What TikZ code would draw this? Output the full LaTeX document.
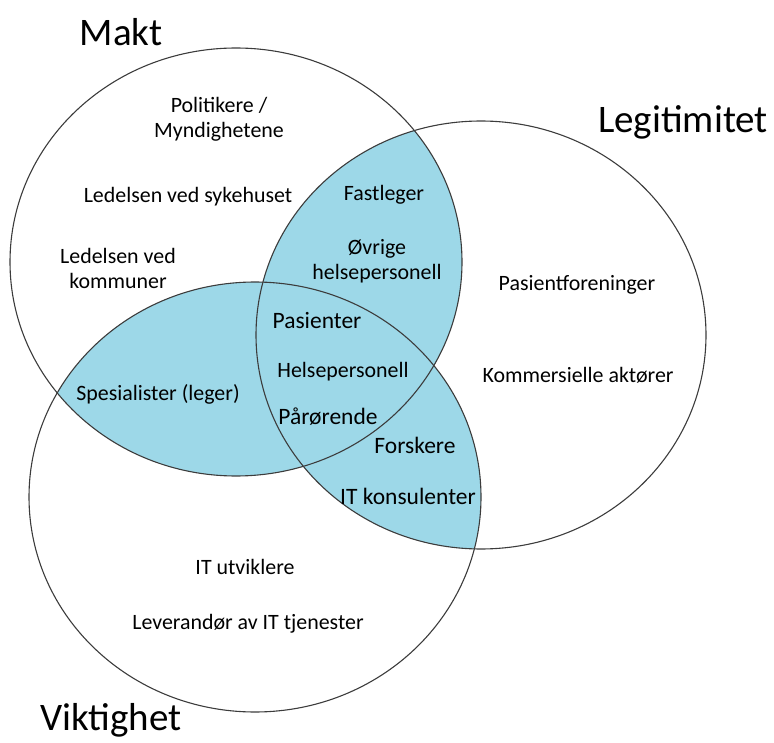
\documentclass[tikz,border=0pt]{standalone}
\usepackage{fontspec}
\setmainfont{Carlito}
\definecolor{lensblue}{RGB}{157,216,232}
\definecolor{edge}{RGB}{60,60,60}
\tikzset{
  lbl/.style={inner sep=0pt, align=center, font=\fontsize{21.9}{25}\selectfont},
  biglbl/.style={inner sep=0pt, align=center, font=\fontsize{23.5}{27}\selectfont},
  title/.style={inner sep=0pt, font=\fontsize{39}{46}\selectfont},
  ring/.style={draw=edge, line width=1.1pt}
}
\begin{document}
\begin{tikzpicture}[x=1pt,y=-1pt]
\useasboundingbox (0,0) rectangle (774,743);
\def\makt{(236,262) ellipse [x radius=226, y radius=214]}
\def\legit{(481,335) ellipse [x radius=225, y radius=214]}
\def\vikt{(255,497) ellipse [x radius=226, y radius=215]}
\begin{scope}\clip \makt; \fill[lensblue] \legit; \end{scope}
\begin{scope}\clip \makt; \fill[lensblue] \vikt; \end{scope}
\begin{scope}\clip \legit; \fill[lensblue] \vikt; \end{scope}
\draw[ring] \makt;
\draw[ring] \legit;
\draw[ring] \vikt;

\node[title] (tmakt) at (121,32) {Makt};
\node[title] (tlegit) at (683,122) {Legitimitet};
\node[title] (tvikt) at (111,720) {Viktighet};

\node[lbl] (pol) at (219,119) {Politikere /\\Myndighetene};
\node[lbl] (sykeh) at (188,197) {Ledelsen ved sykehuset};
\node[lbl] (komm) at (118,268) {Ledelsen ved\\kommuner};
\node[lbl] (fast) at (384,195) {Fastleger};
\node[lbl] (ovr) at (377,261) {Øvrige\\helsepersonell};
\node[lbl] (pforen) at (577,285) {Pasientforeninger};
\node[lbl] (kommers) at (578,375) {Kommersielle aktører};
\node[biglbl] (pas) at (317,321) {Pasienter};
\node[lbl] (helse) at (343,372) {Helsepersonell};
\node[biglbl] (paar) at (328,417) {Pårørende};
\node[biglbl] (forsk) at (415,445) {Forskere};
\node[biglbl] (itk) at (408,496) {IT konsulenter};
\node[lbl] (spes) at (158,394) {Spesialister (leger)};
\node[lbl] (itu) at (245,567) {IT utviklere};
\node[lbl] (lev) at (248,624) {Leverandør av IT tjenester};
\end{tikzpicture}
\end{document}
